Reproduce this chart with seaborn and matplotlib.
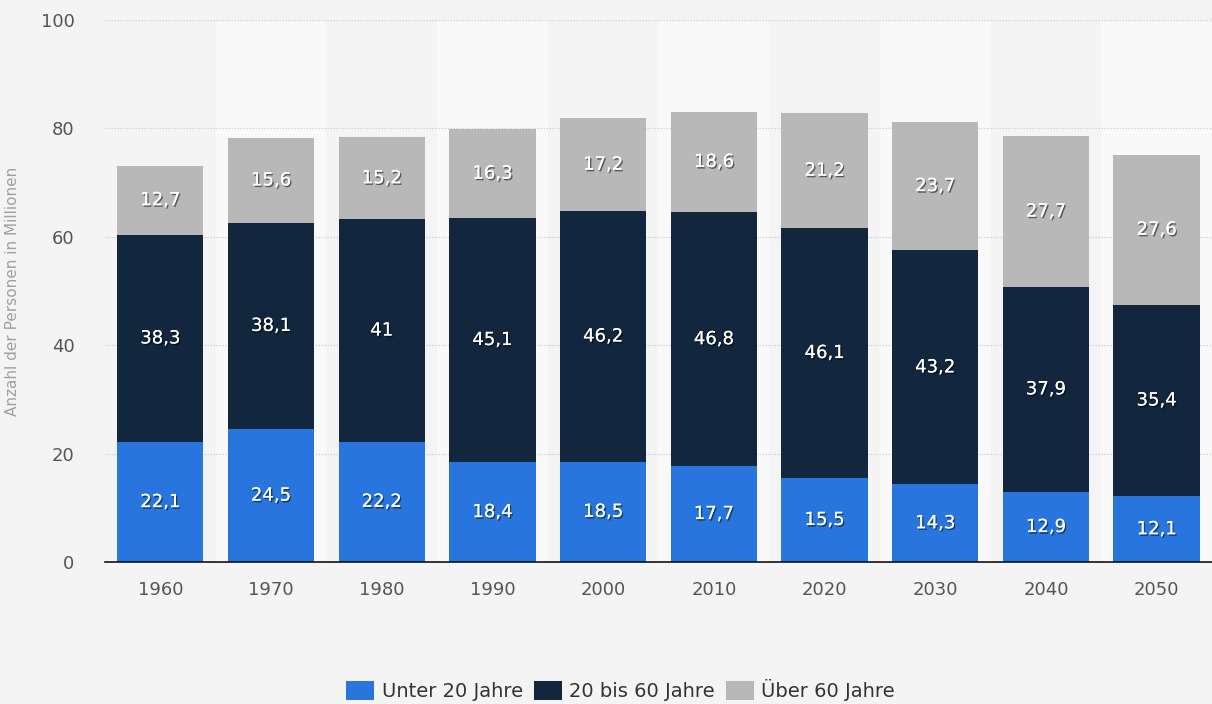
import matplotlib
matplotlib.use("Agg")
import matplotlib.pyplot as plt
import matplotlib.patheffects as pe
from matplotlib.patches import Patch
import numpy as np
import pandas as pd
import seaborn as sns

# Bevölkerung in Deutschland nach Altersgruppen (in Millionen)
jahre = ["1960", "1970", "1980", "1990", "2000", "2010", "2020", "2030", "2040", "2050"]
unter_20 = [22.1, 24.5, 22.2, 18.4, 18.5, 17.7, 15.5, 14.3, 12.9, 12.1]
zwischen_20_60 = [38.3, 38.1, 41.0, 45.1, 46.2, 46.8, 46.1, 43.2, 37.9, 35.4]
ueber_60 = [12.7, 15.6, 15.2, 16.3, 17.2, 18.6, 21.2, 23.7, 27.7, 27.6]
gruppen = ["Unter 20 Jahre", "20 bis 60 Jahre", "Über 60 Jahre"]
farben = ["#2876dd", "#12263d", "#b8b8b8"]
y_ticks = [0, 20, 40, 60, 80, 100]

sns.set_theme(style="white")
plt.rcParams["font.family"] = ["DejaVu Sans"]

df = pd.DataFrame({
    "Jahr": jahre,
    "u20": unter_20,
    "m": zwischen_20_60,
    "u60": ueber_60,
})
df["bis60"] = df["u20"] + df["m"]
df["gesamt"] = df["bis60"] + df["u60"]

fig = plt.figure(figsize=(12.12, 7.04), dpi=100)
fig.patch.set_facecolor("#f4f4f4")
ax = fig.add_axes([0.0866, 0.2017, 0.9134, 0.77])
ax.set_facecolor("#f4f4f4")

# alternating column bands
for i in range(len(jahre)):
    if i % 2 == 1:
        ax.axvspan(i - 0.5, i + 0.5, ymin=0, ymax=1, color="#f9f9f9", zorder=0, lw=0)

# dotted grid
for t in y_ticks[1:]:
    ax.axhline(t, color="#d2d2d2", lw=0.9, ls=(0, (1.2, 1.2)), zorder=0.5)

# stacked bars: totals first, lower groups drawn over them
bw = 0.78
sns.barplot(data=df, x="Jahr", y="gesamt", color=farben[2], width=bw, ax=ax,
            saturation=1, zorder=2, linewidth=0)
sns.barplot(data=df, x="Jahr", y="bis60", color=farben[1], width=bw, ax=ax,
            saturation=1, zorder=3, linewidth=0)
sns.barplot(data=df, x="Jahr", y="u20", color=farben[0], width=bw, ax=ax,
            saturation=1, zorder=4, linewidth=0)

shadow = [pe.withSimplePatchShadow(offset=(1, -1.2), shadow_rgbFace="#000000", alpha=0.5),
          pe.Normal()]

def fmt(v):
    s = f"{v:.1f}".replace(".", ",")
    return s[:-2] if s.endswith(",0") else s

for i in range(len(jahre)):
    a, b, c = unter_20[i], zwischen_20_60[i], ueber_60[i]
    for val, mid in ((a, a / 2), (b, a + b / 2), (c, a + b + c / 2)):
        ax.text(i, mid, fmt(val), ha="center", va="center", color="white",
                fontsize=13, zorder=6, path_effects=shadow)

ax.set_xlim(-0.5, len(jahre) - 0.5)
ax.set_ylim(0, 100)
ax.set_yticks(y_ticks)
ax.set_yticklabels([str(t) for t in y_ticks], color="#555555", fontsize=13)
ax.tick_params(axis="y", length=0, pad=22)
ax.tick_params(axis="x", length=0, pad=14, labelcolor="#555555", labelsize=13)
ax.set_xlabel("")
ax.set_ylabel("Anzahl der Personen in Millionen", color="#a0a0a0", fontsize=11)
ax.yaxis.set_label_coords(-0.077, 0.5)

for s in ("top", "right", "left"):
    ax.spines[s].set_visible(False)
ax.spines["bottom"].set_color("#111111")
ax.spines["bottom"].set_linewidth(1.2)
ax.spines["bottom"].set_zorder(7)

handles = [Patch(facecolor=f, edgecolor="none") for f in farben]
fig.legend(handles, gruppen, loc="center", bbox_to_anchor=(0.512, 0.02), ncol=3,
           frameon=False, fontsize=14, handlelength=1.44, handleheight=1.08,
           handletextpad=0.4, columnspacing=0.55, labelcolor="#333333",
           borderpad=0, borderaxespad=0)

fig.savefig("out.png", dpi=100, facecolor=fig.get_facecolor())
